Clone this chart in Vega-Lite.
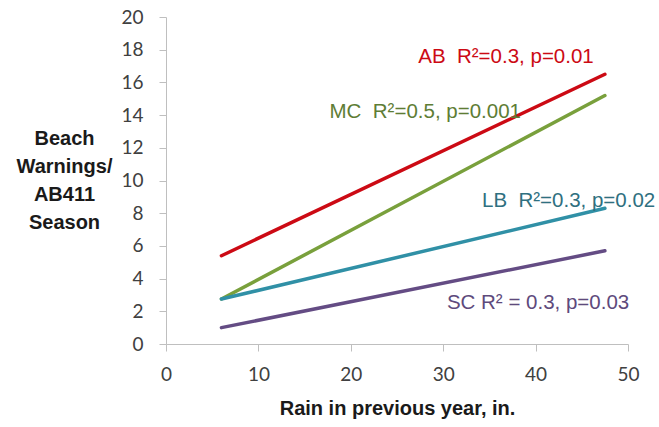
{
  "$schema": "https://vega.github.io/schema/vega-lite/v6.json",
  "width": 462,
  "height": 327,
  "autosize": "none",
  "padding": {"left": 166, "top": 17, "right": 31, "bottom": 83},
  "background": "white",
  "config": {"view": {"stroke": null}},
  "datasets": {
    "lines": [
      {"site": "AB", "rain": 6, "warnings": 5.4},
      {"site": "AB", "rain": 47.5, "warnings": 16.5},
      {"site": "MC", "rain": 6, "warnings": 2.75},
      {"site": "MC", "rain": 47.5, "warnings": 15.2},
      {"site": "LB", "rain": 6, "warnings": 2.75},
      {"site": "LB", "rain": 47.5, "warnings": 8.3},
      {"site": "SC", "rain": 6, "warnings": 1.0},
      {"site": "SC", "rain": 47.5, "warnings": 5.7}
    ],
    "labels": [
      {"site": "AB", "rain": 27.3, "warnings": 17.55, "label": "AB\u00a0\u00a0R²=0.3, p=0.01"},
      {"site": "MC", "rain": 17.7, "warnings": 14.2, "label": "MC\u00a0 R²=0.5, p=0.001"},
      {"site": "LB", "rain": 34.2, "warnings": 8.75, "label": "LB\u00a0 R²=0.3, p=0.02"},
      {"site": "SC", "rain": 30.4, "warnings": 2.5, "label": "SC R² = 0.3, p=0.03"}
    ]
  },
  "encoding": {
    "x": {
      "field": "rain", "type": "quantitative",
      "scale": {"domain": [0, 50], "nice": false},
      "axis": {
        "values": [0, 10, 20, 30, 40, 50],
        "grid": false, "labelFlush": false, "labelOverlap": false,
        "domainColor": "#BFBFBF", "tickColor": "#BFBFBF", "tickSize": 7,
        "labelFont": "Lato", "labelFontSize": 19, "labelColor": "#404040",
        "labelPadding": 14,
        "title": "Rain in previous year, in.",
        "titleFont": "Liberation Sans", "titleFontSize": 20, "titleFontWeight": "bold",
        "titleColor": "#1a1a1a", "titleBaseline": "top", "titleY": 54
      }
    },
    "y": {
      "field": "warnings", "type": "quantitative",
      "scale": {"domain": [0, 20], "nice": false},
      "axis": {
        "values": [0, 2, 4, 6, 8, 10, 12, 14, 16, 18, 20],
        "grid": false, "labelFlush": false, "labelOverlap": false,
        "domainColor": "#BFBFBF", "tickColor": "#BFBFBF", "tickSize": 7,
        "labelFont": "Lato", "labelFontSize": 19, "labelColor": "#404040",
        "labelPadding": 16,
        "title": ["Beach", "Warnings/", "AB411", "Season"],
        "titleFont": "Liberation Sans", "titleFontSize": 20, "titleFontWeight": "bold",
        "titleColor": "#1a1a1a", "titleAngle": 0, "titleAlign": "center",
        "titleBaseline": "top", "titleX": -102, "titleY": 111, "titleLineHeight": 28
      }
    }
  },
  "layer": [
    {
      "data": {"name": "lines"},
      "mark": {"type": "line", "strokeWidth": 3.5, "strokeCap": "round"},
      "encoding": {
        "color": {
          "field": "site", "type": "nominal",
          "scale": {"domain": ["AB", "MC", "LB", "SC"], "range": ["#CC0A14", "#79A03C", "#3090A6", "#644C84"]},
          "legend": null
        }
      }
    },
    {
      "data": {"name": "labels"},
      "mark": {"type": "text", "align": "left", "baseline": "middle", "font": "Liberation Sans", "fontSize": 20.5},
      "encoding": {
        "text": {"field": "label"},
        "color": {
          "field": "site", "type": "nominal",
          "scale": {"domain": ["AB", "MC", "LB", "SC"], "range": ["#CC0A14", "#5E7D35", "#2F7080", "#5E4A7C"]},
          "legend": null
        }
      }
    }
  ],
  "resolve": {"scale": {"color": "independent"}}
}
